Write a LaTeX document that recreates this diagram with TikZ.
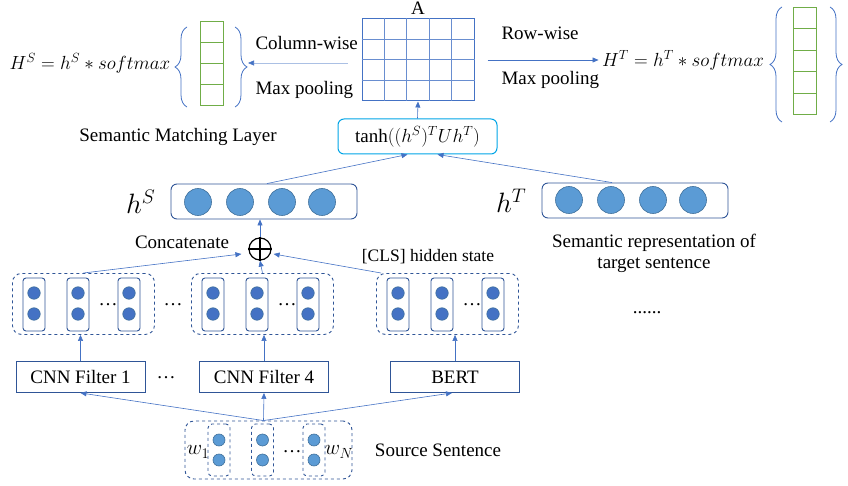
\RequirePackage{fix-cm}
\documentclass[tikz,border=0pt]{standalone}
\usepackage{fontspec}
\setmainfont{Liberation Serif}
\usetikzlibrary{arrows.meta, positioning, calc, decorations.pathreplacing}
\definecolor{UnitBlue}{RGB}{91,155,213}
\definecolor{RimBlue}{RGB}{65,113,156}
\definecolor{LinkBlue}{RGB}{68,114,196}
\definecolor{FrameBlue}{RGB}{47,85,151}
\definecolor{SkyBlue}{RGB}{0,164,230}
\definecolor{CellGreen}{RGB}{112,173,71}

\begin{document}
\begin{tikzpicture}[
  x=1pt, y=-1pt,
  font=\fontsize{19}{21}\selectfont,
  every node/.style={align=center},
  neuron/.style={circle, fill=#1, draw=RimBlue, line width=0.6pt, minimum size=27pt, inner sep=0pt},
  neuron/.default=UnitBlue,
  tinyneuron/.style={neuron=#1, minimum size=12.5pt},
  tinyneuron/.default=LinkBlue,
  vecbox/.style={draw=FrameBlue, line width=0.9pt, rounded corners=6pt, minimum width=186pt, minimum height=35pt},
  slotbox/.style={draw=FrameBlue, line width=0.9pt, rounded corners=3pt, minimum width=22pt, minimum height=53pt, inner sep=0pt},
  groupbox/.style={draw=FrameBlue, dashed, line width=0.9pt, rounded corners=9pt, minimum width=142pt, minimum height=61pt, inner sep=0pt},
  cnnbox/.style={draw=FrameBlue, line width=0.9pt, minimum width=129pt, minimum height=31pt},
  cell/.style={draw=CellGreen, line width=1pt, minimum width=23pt, minimum height=#1, inner sep=0pt, anchor=north west},
  curly/.style={draw=LinkBlue, line width=0.8pt, decorate, decoration={brace, amplitude=#1}},
  flow/.style={draw=LinkBlue, line width=0.6pt, -{Triangle[length=6pt, width=5pt, color=LinkBlue]}}
  ]
\useasboundingbox (0,0) rectangle (848,486);

% Attention matrix
\node[draw=LinkBlue, line width=1pt, minimum width=112pt, minimum height=82pt, inner sep=0pt] (attn) at (418,60) {};
\foreach \i in {1,...,4}
  \draw[LinkBlue!80, line width=1pt] ($(attn.north west)!\i/5!(attn.north east)$) -- ($(attn.south west)!\i/5!(attn.south east)$);
\foreach \j in {1,2,3}
  \draw[LinkBlue!80, line width=1pt] ($(attn.north west)!\j/4!(attn.south west)$) -- ($(attn.north east)!\j/4!(attn.south east)$);
\node[above=4pt of attn, inner sep=0pt] (alabel) {A};

% Bilinear score
\node[draw=SkyBlue, line width=1pt, rounded corners=6pt, minimum width=159pt, minimum height=35pt] (score) at (417.5,136.5) {$\tanh((h^S)^T U h^T)$};
\draw[flow] (score.north) -- (attn.south);

% Column-wise pooling (source side)
\node (hsout) at (90,63) {$H^S = h^S * softmax$};
\foreach \i in {0,...,3}
  \node[cell=21pt] (sc\i) at (200,{21+21*\i}) {};
\draw[curly=12pt] (187,107) -- (187,27);
\draw[curly=12pt] (235,27) -- (235,107);
\coordinate (sarrow) at (248,63);
\draw[flow, draw=LinkBlue!45] ([xshift=-14pt, yshift=-3pt]attn.west) -- (sarrow);
\node[anchor=west] (colwise) at (252,43) {Column-wise};
\node[anchor=west] (colpool) at (252,90) {Max pooling};
\node (smlayer) at (178,137) {Semantic Matching Layer};

% Row-wise pooling (target side)
\node (htout) at (683,60) {$H^T = h^T * softmax$};
\foreach \i in {0,...,4}
  \node[cell=21.4pt] (tc\i) at (793,{7+21.4*\i}) {};
\draw[curly=12pt] (782,122) -- (782,7);
\draw[curly=12pt] (830,7) -- (830,122);
\draw[flow] ([xshift=13pt]attn.east) -- (htout.west);
\node[anchor=west] (rowwise) at (498,33) {Row-wise};
\node[anchor=west] (rowpool) at (498,80) {Max pooling};

% Sentence vectors
\node[vecbox] (hs) at (264,201.5) {};
\foreach \x [count=\i] in {198,240,282,322}
  \node[neuron] (hs\i) at (\x,202) {};
\node[left=15pt of hs, inner sep=0pt, font=\fontsize{28}{30}\selectfont] (hslabel) {$h^S$};

\node[vecbox] (ht) at (635,200.5) {};
\foreach \x [count=\i] in {569,611,653,693}
  \node[neuron] (ht\i) at (\x,200) {};
\node[left=15pt of ht, inner sep=0pt, font=\fontsize{28}{30}\selectfont] (htlabel) {$h^T$};
\node (htnote) at (654,253) {Semantic representation of\\target sentence};
\node (htdots) at (647,313) {......};

\draw[flow] ([xshift=3pt]hs.north) -- ([xshift=-10pt]score.south);
\draw[flow] ([xshift=-23pt]ht.north) -- ([xshift=20pt]score.south);

% Concatenation
\node[circle, draw, line width=1.2pt, minimum size=22pt, inner sep=0pt] (cat) at (260,249) {};
\draw[line width=1.2pt] (cat.north) -- (cat.south) (cat.west) -- (cat.east);
\node (catlabel) at (182,242) {Concatenate};
\draw[flow] (cat.north) -- (cat |- hs.south);
\node[font=\fontsize{17.5}{20}\selectfont] (clsnote) at (428,257) {[CLS] hidden state};

% Feature groups
\foreach \gx/\g in {12/ga, 191/gb, 376/gc} {
  \node[groupbox, anchor=north west] (\g) at (\gx,273) {};
  \foreach \sx [count=\i] in {22,66,117} {
    \node[slotbox] (\g-s\i) at ({\gx+\sx},304.5) {};
    \node[tinyneuron] (\g-s\i-a) at ({\gx+\sx},293) {};
    \node[tinyneuron] (\g-s\i-b) at ({\gx+\sx},314) {};
  }
  \node (\g-dots) at ({\gx+96},305) {\dots};
}
\node (gdots) at (173,305) {\dots};

\draw[flow] (ga.north) -- ([xshift=-7pt, yshift=-5pt]cat.west);
\draw[flow] (gb.north) -- (cat.south);
\draw[flow] ([xshift=5pt]gc.north west) -- ([xshift=2pt, yshift=-5pt]cat.east);

% Encoders
\node[cnnbox] (cnn1) at (80.5,377) {CNN Filter 1};
\node[cnnbox] (cnn4) at (264,377) {CNN Filter 4};
\node[cnnbox] (bert) at (455,377) {BERT};
\node (cnndots) at (166,378) {\dots};

\draw[flow] (cnn1.north) -- (cnn1 |- ga.south);
\draw[flow] (cnn4.north) -- (cnn4 |- gb.south);
\draw[flow] (bert.north) -- (bert |- gc.south);

% Source sentence
\node[groupbox, minimum width=167pt, minimum height=58pt] (src) at (268.5,450) {};
\foreach \x [count=\i] in {219,262.5,314} {
  \node[slotbox, dashed, rounded corners=4pt, minimum height=52pt] (w\i) at (\x,450) {};
  \node[tinyneuron=UnitBlue, minimum size=12pt] (w\i-a) at (\x,440) {};
  \node[tinyneuron=UnitBlue, minimum size=12pt] (w\i-b) at (\x,460) {};
}
\node[font=\fontsize{21}{23}\selectfont] (wfirst) at (198,452) {$w_1$};
\node[font=\fontsize{21}{23}\selectfont] (wlast) at (339,452) {$w_N$};
\node (wdots) at (292,452) {\dots};
\node (srclabel) at (438,450) {Source Sentence};

\draw[flow] ([xshift=-5pt]src.north) -- ([xshift=0pt]cnn1.south);
\draw[flow] ([xshift=-5pt]src.north) -- (cnn4.south);
\draw[flow] ([xshift=-5pt]src.north) -- ([xshift=-3pt]bert.south);
\end{tikzpicture}
\end{document}
